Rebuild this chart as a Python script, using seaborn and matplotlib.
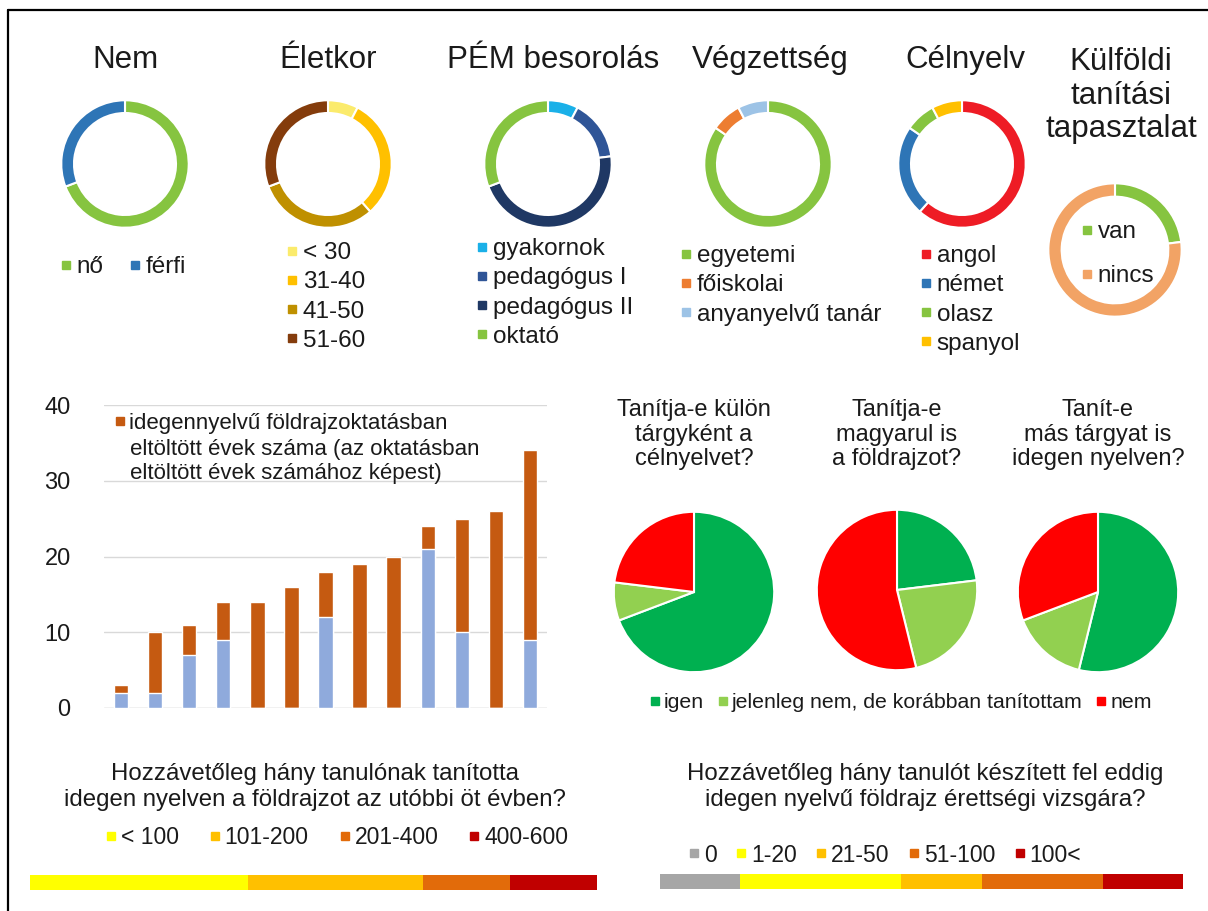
import numpy as np
import pandas as pd
import matplotlib
matplotlib.use("Agg")
import matplotlib.pyplot as plt
from matplotlib.lines import Line2D
import seaborn as sns

# Adatok (13 válaszadó)
nem_labels = ["nő", "férfi"]
nem_values = [9, 4]
eletkor_labels = ["< 30", "31-40", "41-50", "51-60"]
eletkor_values = [1, 4, 4, 4]
pem_labels = ["gyakornok", "pedagógus I", "pedagógus II", "oktató"]
pem_values = [1, 2, 6, 4]
vegz_labels = ["egyetemi", "főiskolai", "anyanyelvű tanár"]
vegz_values = [11, 1, 1]
celnyelv_labels = ["angol", "német", "olasz", "spanyol"]
celnyelv_values = [8, 3, 1, 1]
kulfold_labels = ["van", "nincs"]
kulfold_values = [3, 10]

# oszlopdiagram: teljes oszlop (narancs) és a kék rész
tanar_ids = [str(i) for i in range(1, 14)]
oszlop_narancs = [3, 10, 11, 14, 14, 16, 18, 19, 20, 24, 25, 26, 34]
oszlop_kek = [2, 2, 7, 9, 0, 0, 12, 0, 0, 21, 10, 0, 9]
oszlop_legenda = ["idegennyelvű földrajzoktatásban",
                  "eltöltött évek száma (az oktatásban",
                  "eltöltött évek számához képest)"]

valasz_labels = ["igen", "jelenleg nem, de korábban tanítottam", "nem"]
pie_titles = ["Tanítja-e külön\ntárgyként a\ncélnyelvet?",
              "Tanítja-e\nmagyarul is\na földrajzot?",
              "Tanít-e\nmás tárgyat is\nidegen nyelven?"]
kulon_values = [9, 1, 3]
magyarul_values = [3, 3, 7]
mas_targy_values = [7, 2, 4]

tanulo_kerdes = "Hozzávetőleg hány tanulónak tanította\nidegen nyelven a földrajzot az utóbbi öt évben?"
tanulo_labels = ["< 100", "101-200", "201-400", "400-600"]
tanulo_values = [5, 4, 2, 2]
erettsegi_kerdes = "Hozzávetőleg hány tanulót készített fel eddig\nidegen nyelvű földrajz érettségi vizsgára?"
erettsegi_labels = ["0", "1-20", "21-50", "51-100", "100<"]
erettsegi_values = [2, 4, 2, 3, 2]

# színek
GREEN = "#86C440"
BLUE = "#2E75B6"
c_eletkor = ["#FBEB6C", "#FFC000", "#BF9000", "#843C0C"]
c_pem = ["#1AB0E8", "#2F5597", "#1F3864", GREEN]
c_vegz = [GREEN, "#ED7D31", "#9DC3E6"]
c_celnyelv = ["#EE1C25", BLUE, GREEN, "#FFC000"]
c_kulfold = [GREEN, "#F2A365"]
c_valasz = ["#00B050", "#92D050", "#FF0000"]
c_tanulo = ["#FFFF00", "#FFC000", "#E26B0A", "#C00000"]
c_erettsegi = ["#A6A6A6", "#FFFF00", "#FFC000", "#E26B0A", "#C00000"]
ORANGE = "#C55A11"
LIGHTBLUE = "#8FAADC"

sns.set_theme(style="white")
plt.rcParams["font.family"] = ["Liberation Sans", "DejaVu Sans"]
plt.rcParams["text.color"] = "#1a1a1a"

W, H = 1208, 911
fig = plt.figure(figsize=(W / 100, H / 100), dpi=100)
fig.patch.set_facecolor("white")


def px_box(x, y, w, h):
    return [x / W, 1 - (y + h) / H, w / W, h / H]


def px_pt(x, y):
    return (x / W, 1 - y / H)


def legenda(labels, colors, x, y, ncol=1, loc="upper left", fs=17.5,
            spacing=0.3, colspace=0.8):
    handles = [Line2D([], [], marker="s", ls="none", color=c, markersize=6)
               for c in colors]
    fig.legend(handles, labels, loc=loc, bbox_to_anchor=px_pt(x, y),
               ncol=ncol, frameon=False, fontsize=fs, handlelength=0.45,
               handletextpad=0.2, borderpad=0, borderaxespad=0,
               labelspacing=spacing, columnspacing=colspace)


def donut(cx, cy, r, values, colors):
    ax = fig.add_axes(px_box(cx - r, cy - r, 2 * r, 2 * r))
    ax.pie(values, colors=colors, startangle=90, counterclock=False,
           wedgeprops=dict(width=0.2, edgecolor="white", linewidth=1.5))
    ax.set_xlim(-1.02, 1.02)
    ax.set_ylim(-1.02, 1.02)
    ax.set_aspect("equal")
    ax.axis("off")
    return ax


def pie(cx, cy, r, values, colors):
    ax = fig.add_axes(px_box(cx - r, cy - r, 2 * r, 2 * r))
    ax.pie(values, colors=colors, startangle=90, counterclock=False,
           wedgeprops=dict(edgecolor="white", linewidth=1.5))
    ax.set_xlim(-1.01, 1.01)
    ax.set_ylim(-1.01, 1.01)
    ax.set_aspect("equal")
    ax.axis("off")
    return ax


# ---- felső sor: gyűrűdiagramok ----
title_fs = 22.5
for x, t in [(125, "Nem"), (328, "Életkor"), (553, "PÉM besorolás"),
             (770, "Végzettség"), (965, "Célnyelv")]:
    fig.text(*px_pt(x, 60), t, ha="center", va="center", fontsize=title_fs)
fig.text(*px_pt(1121, 47), "Külföldi\ntanítási\ntapasztalat", ha="center",
         va="top", fontsize=title_fs, linespacing=1.16)

donut(125, 164, 65, nem_values, [GREEN, BLUE])
donut(328, 164, 65, eletkor_values, c_eletkor)
donut(548, 164, 65, pem_values, c_pem)
donut(768, 164, 65, vegz_values, c_vegz)
donut(962, 164, 65, celnyelv_values, c_celnyelv)
donut(1115, 250, 68, kulfold_values, c_kulfold)

legenda(nem_labels, [GREEN, BLUE], 123, 267, ncol=2, loc="center", colspace=1.1)
legenda(eletkor_labels, c_eletkor, 287, 242)
legenda(pem_labels, c_pem, 477, 238)
legenda(vegz_labels, c_vegz, 681, 245)
legenda(celnyelv_labels, c_celnyelv, 921, 245)
legenda(kulfold_labels, c_kulfold, 1082, 221, spacing=0.92)

# ---- oszlopdiagram ----
df = pd.DataFrame({"tanar": tanar_ids, "narancs": oszlop_narancs,
                   "kek": oszlop_kek})
ax = fig.add_axes(px_box(104, 405, 443, 303))
sns.barplot(data=df, x="tanar", y="narancs", color=ORANGE, width=0.42,
            saturation=1, errorbar=None, ax=ax, zorder=2)
sns.barplot(data=df, x="tanar", y="kek", color=LIGHTBLUE, width=0.42,
            saturation=1, errorbar=None, ax=ax, zorder=3)
ax.set_ylim(0, 40)
ax.set_xlim(-0.5, 12.5)
ax.set_yticks([0, 10, 20, 30, 40])
ax.yaxis.grid(True, color="#D9D9D9", lw=1)
ax.set_axisbelow(True)
ax.set_xticks([])
ax.set_xlabel("")
ax.set_ylabel("")
ax.tick_params(axis="y", length=0, pad=24, labelsize=17, labelcolor="#1a1a1a")
for s in ax.spines.values():
    s.set_visible(False)
ax.axhline(0, color="#D9D9D9", lw=1, zorder=1)

legenda([oszlop_legenda[0]], [ORANGE], 115, 413, fs=16)
fig.text(*px_pt(130, 439), "\n".join(oszlop_legenda[1:]), ha="left",
         va="top", fontsize=16, linespacing=1.17)

# ---- kördiagramok ----
pie_specs = [(694, 592, kulon_values), (897, 590, magyarul_values),
             (1098, 592, mas_targy_values)]
for (cx, cy, vals), t in zip(pie_specs, pie_titles):
    pie(cx, cy, 81, vals, c_valasz)
    fig.text(*px_pt(cx, 399), t, ha="center", va="top", fontsize=17,
             linespacing=1.15)
legenda(valasz_labels, c_valasz, 901, 703, ncol=3, loc="center", fs=15.3,
        colspace=0.65)

# ---- alsó sávok ----
def savdiagram(x, y, w, h, values, colors):
    ax = fig.add_axes(px_box(x, y, w, h))
    left = np.concatenate([[0], np.cumsum(values)[:-1]])
    ax.barh([0] * len(values), values, left=left, color=colors, height=1.0,
            edgecolor="none")
    ax.set_xlim(0, sum(values))
    ax.set_ylim(-0.5, 0.5)
    ax.axis("off")


fig.text(*px_pt(315, 787), tanulo_kerdes, ha="center", va="center",
         fontsize=17.3, linespacing=1.2)
legenda(tanulo_labels, c_tanulo, 337, 838, ncol=4, loc="center", fs=16.5,
        colspace=1.35)
savdiagram(30, 875, 567, 15, tanulo_values, c_tanulo)

fig.text(*px_pt(925, 787), erettsegi_kerdes, ha="center", va="center",
         fontsize=17.3, linespacing=1.2)
legenda(erettsegi_labels, c_erettsegi, 885, 855, ncol=5, loc="center", fs=16.5,
        colspace=0.85)
savdiagram(660, 874, 523, 15, erettsegi_values, c_erettsegi)

# keret (bal és felső él)
fig.add_artist(Line2D([8 / W, 8 / W], [0, 1 - 10 / H], transform=fig.transFigure,
                      color="black", lw=1.6))
fig.add_artist(Line2D([8 / W, 1], [1 - 10 / H, 1 - 10 / H],
                      transform=fig.transFigure, color="black", lw=1.6))

fig.savefig("out.png", dpi=100, facecolor="white")
